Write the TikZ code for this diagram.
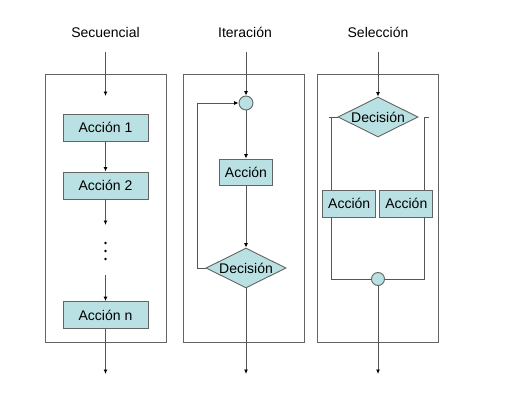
\documentclass[tikz,border=0pt]{standalone}
\usepackage{fontspec}
\setmainfont{Liberation Sans}
\usetikzlibrary{shapes.geometric,arrows.meta}
\definecolor{boxfill}{RGB}{185,224,226}
\definecolor{lin}{RGB}{85,85,85}
\definecolor{frm}{RGB}{100,100,100}
\tikzset{
  every node/.style={font=\fontsize{14}{16}\selectfont},
  frame/.style={draw=frm, line width=0.9pt, rectangle, inner sep=0pt},
  actbox/.style={draw=frm, fill=boxfill, line width=0.9pt, rectangle, inner sep=0pt, minimum height=27pt},
  decbox/.style={draw=frm, fill=boxfill, line width=0.9pt, diamond, aspect=2, inner sep=0pt, minimum width=80pt, minimum height=40pt},
  joint/.style={draw=frm, fill=boxfill, line width=0.9pt, circle, inner sep=0pt, minimum size=14pt},
  conn/.style={draw=lin, line width=0.9pt},
  arr/.style={conn, -{Latex[length=4.5pt,width=4pt,color=black]}},
  title/.style={inner sep=0pt},
}
\begin{document}
\begin{tikzpicture}[x=1pt,y=-1pt]
\useasboundingbox (0,0) rectangle (530,415);
% titles
\node[title] (t1) at (105.5,32) {Secuencial};
\node[title] (t2) at (245,32) {Iteración};
\node[title] (t3) at (378,32) {Selección};
% frames
\node[frame, minimum width=121pt, minimum height=268pt] (f1) at (105.5,208) {};
\node[frame, minimum width=121pt, minimum height=268pt] (f2) at (243.5,208) {};
\node[frame, minimum width=121pt, minimum height=268pt] (f3) at (377.5,208) {};
% column 1
\coordinate (s0) at (105.5,52);
\coordinate (s1) at (105.5,96);
\node[actbox, minimum width=85pt] (a1) at (105.5,127.5) {Acción 1};
\node[actbox, minimum width=85pt] (a2) at (105.5,185.5) {Acción 2};
\coordinate (s2) at (105.5,225);
\coordinate (s3) at (105.5,275);
\node[actbox, minimum width=85pt] (an) at (105.5,315) {Acción n};
\coordinate (s4) at (105.5,374);
\fill[black] (105.5,243) circle (1.3) (105.5,251) circle (1.3) (105.5,259) circle (1.3);
\draw[arr] (s0) -- (s1);
\draw[arr] (a1) -- (a2);
\draw[arr] (a2) -- (s2);
\draw[arr] (s3) -- (an);
\draw[arr] (an) -- (s4);
% column 2
\coordinate (i0) at (246,52);
\node[joint] (c1) at (246,103) {};
\node[actbox, minimum width=53pt, minimum height=26pt] (ac) at (246,172) {Acción};
\node[decbox] (d1) at (246,268) {Decisión};
\coordinate (i1) at (246,374);
\coordinate (il) at (197,268);
\draw[arr] (i0) -- (c1);
\draw[arr] (c1) -- (ac);
\draw[arr] (ac) -- (d1);
\draw[arr] (d1.west) -- (il) |- (c1.west);
\draw[arr] (d1) -- (i1);
% column 3
\coordinate (e0) at (378,52);
\node[decbox] (d2) at (378,117) {Decisión};
\node[actbox, minimum width=53pt] (al) at (349.2,203.5) {Acción};
\node[actbox, minimum width=53pt] (ar) at (406.3,203.5) {Acción};
\node[joint, minimum size=13pt] (c2) at (378,279) {};
\coordinate (e1) at (378,374);
\coordinate (lt) at (329,117);
\coordinate (lv) at (331,117);
\coordinate (rt) at (429,117);
\coordinate (rv) at (424,117);
\draw[arr] (e0) -- (d2);
\draw[conn] (d2.west) -- (lt);
\draw[conn] (lv) -- (lv |- al.north);
\draw[conn] (rt) -- (rv) -- (rv |- ar.north);
\draw[conn] (lv |- al.south) |- (c2.west);
\draw[conn] (rv |- ar.south) |- (c2.east);
\draw[arr] (c2) -- (e1);
\end{tikzpicture}
\end{document}
